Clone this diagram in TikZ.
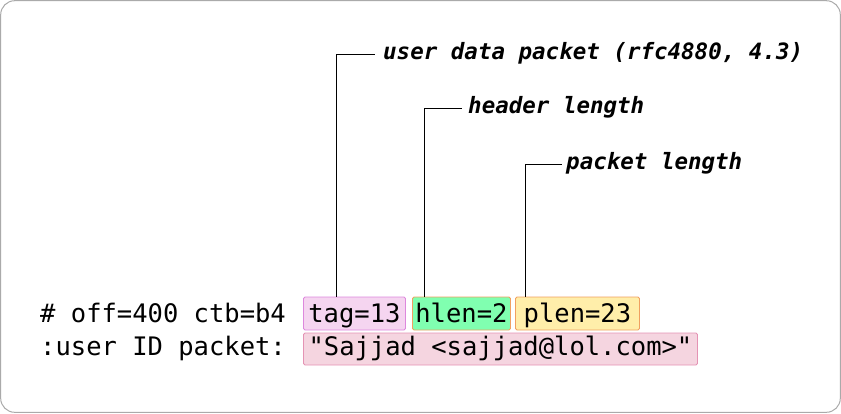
\documentclass[tikz,border=0pt]{standalone}
\usepackage{fontspec}
\newfontfamily\monofont{DejaVu Sans Mono}
\definecolor{framegray}{HTML}{AAAAAA}
\definecolor{tagfill}{HTML}{F5D5F0}
\definecolor{tagdraw}{HTML}{DD88DD}
\definecolor{hlenfill}{HTML}{80FFB0}
\definecolor{lenDraw}{HTML}{F0A060}
\definecolor{plenfill}{HTML}{FFEEAA}
\definecolor{strfill}{HTML}{F5D5E0}
\definecolor{strdraw}{HTML}{E493B4}
\tikzset{
  plain/.style={font=\monofont\fontsize{25.5}{30}\selectfont, inner sep=0pt, anchor=base west},
  fieldbox/.style={font=\monofont\fontsize{25.5}{30}\selectfont, rounded corners=1.5pt, line width=0.9pt,
    inner xsep=0pt, inner ysep=0pt, text height=25pt, text depth=8pt, anchor=base west},
  note/.style={font=\monofont\bfseries\itshape\fontsize{22.5}{26}\selectfont, inner sep=0pt, anchor=base west},
  leader/.style={line width=0.9pt, black}
}
\begin{document}
\begin{tikzpicture}[x=1pt,y=-1pt]
\useasboundingbox (0,0) rectangle (841,413);
\draw[framegray, line width=1pt, rounded corners=14pt] (0.7,0.7) rectangle (840.3,412.3);

\node[plain] (hdr) at (40,322) {\# off=400 ctb=b4};
\node[plain] (uid) at (40,355) {:user ID packet:};

\node[fieldbox, fill=tagfill, draw=tagdraw, minimum width=102pt] (tag) at (303,322) {tag=13};
\node[fieldbox, fill=hlenfill, draw=lenDraw, minimum width=98pt] (hlen) at (412,322) {hlen=2};
\node[fieldbox, fill=plenfill, draw=lenDraw, minimum width=124pt] (plen) at (515,322) {plen=23};
\node[fieldbox, fill=strfill, draw=strdraw, minimum width=394pt, text depth=10pt, text height=22pt] (str) at (303,355) {"Sajjad <sajjad@lol.com>"};

\node[note] (l1) at (383,59.5) {user data packet (rfc4880, 4.3)};
\node[note] (l2) at (468,113.5) {header length};
\node[note] (l3) at (566,169.5) {packet length};

\draw[leader] ([xshift=33pt]tag.north west) |- ([xshift=-8pt,yshift=5.5pt]l1.base west);
\draw[leader] ([xshift=12pt]hlen.north west) |- ([xshift=-6pt,yshift=5.5pt]l2.base west);
\draw[leader] ([xshift=10pt]plen.north west) |- ([xshift=-4pt,yshift=5.5pt]l3.base west);
\end{tikzpicture}
\end{document}
